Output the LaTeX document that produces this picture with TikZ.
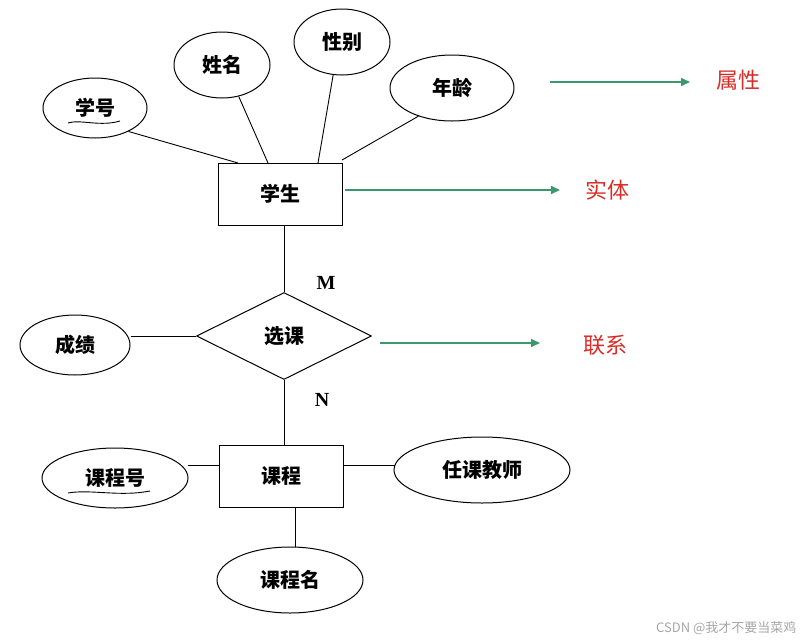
\documentclass[tikz,border=0pt]{standalone}
\usepackage{fontspec}
\setmainfont{Noto Sans CJK SC}
\newfontfamily\mnfont{Liberation Serif}
\usetikzlibrary{shapes.geometric,arrows.meta}
\definecolor{arrg}{RGB}{60,150,110}
\definecolor{lblr}{RGB}{215,45,40}
\tikzset{
 attr/.style={draw,ellipse,line width=1pt,inner sep=0pt,font=\fontsize{20}{22}\selectfont\bfseries},
 ent/.style={draw,rectangle,line width=1pt,minimum width=124pt,minimum height=62pt,font=\fontsize{20}{22}\selectfont\bfseries},
 rel/.style={draw,diamond,aspect=2,line width=1pt,inner sep=0pt,minimum width=175pt,minimum height=87pt,font=\fontsize{20}{22}\selectfont\bfseries},
 ln/.style={line width=0.9pt},
 garr/.style={draw=arrg,line width=1.6pt,-{Triangle[length=9pt,width=8pt]}},
 lbl/.style={text=lblr,font=\fontsize{22}{24}\selectfont},
 card/.style={font=\mnfont\fontsize{20}{22}\selectfont\bfseries}
}
\begin{document}
\begin{tikzpicture}[x=1pt,y=-1pt]
\useasboundingbox (0,0) rectangle (806,643);
\node[ent] (xs) at (280,194) {学生};
\node[attr,minimum width=104pt,minimum height=60pt] (xh) at (95,108) {学号};
\node[attr,minimum width=96pt,minimum height=66pt] (xm) at (222,65) {姓名};
\node[attr,minimum width=96pt,minimum height=66pt] (xb) at (342,42) {性别};
\node[attr,minimum width=124pt,minimum height=66pt] (nl) at (452,88) {年龄};
\draw[ln] (xh.-35) -- (238,163);
\draw[ln] (xm.-62) -- (268,163);
\draw[ln] (xb.-105) -- (318,163);
\draw[ln] (nl.-140) -- (342,160);
\draw[ln] (68,123) .. controls (80,119) and (100,127) .. (120,121);
\coordinate (a1s) at (550,82); \coordinate (a1e) at (690,82);
\draw[garr] (a1s) -- (a1e);
\node[lbl] (sx) at (738,80) {属性};
\coordinate (a2s) at (345,190); \coordinate (a2e) at (560,190);
\draw[garr] (a2s) -- (a2e);
\node[lbl] (st) at (607,190) {实体};
\node[rel] (xk) at (284,336) {选课};
\draw[ln] (xs.south -| xk.north) -- (xk.north);
\node[card] (M) at (326,283) {M};
\node[attr,minimum width=110pt,minimum height=60pt] (cj) at (75,345) {成绩};
\draw[ln] (cj.east |- xk.west) -- (xk.west);
\coordinate (a3s) at (380,343); \coordinate (a3e) at (540,343);
\draw[garr] (a3s) -- (a3e);
\node[lbl] (lx) at (605,345) {联系};
\node[ent] (kc) at (281,476) {课程};
\draw[ln] (xk.south) -- (kc.north -| xk.south);
\node[card] (N) at (322,400) {N};
\node[attr,minimum width=146pt,minimum height=60pt] (kh) at (115,478) {课程号};
\draw[ln] (188,465) -- (kc.west |- 0,465);
\draw[ln] (68,493) .. controls (90,489) and (120,497) .. (150,491);
\node[attr,minimum width=176pt,minimum height=66pt] (js) at (482,470) {任课教师};
\draw[ln] (kc.east |- 0,465) -- (395,465);
\node[attr,minimum width=146pt,minimum height=66pt] (km) at (290,580) {课程名};
\draw[ln] (295,507) -- (km.north -| 295,0);
\node[text=gray!70,font=\fontsize{13}{14}\selectfont,anchor=east] (wm) at (800,628) {CSDN @我才不要当菜鸡};
\end{tikzpicture}
\end{document}
